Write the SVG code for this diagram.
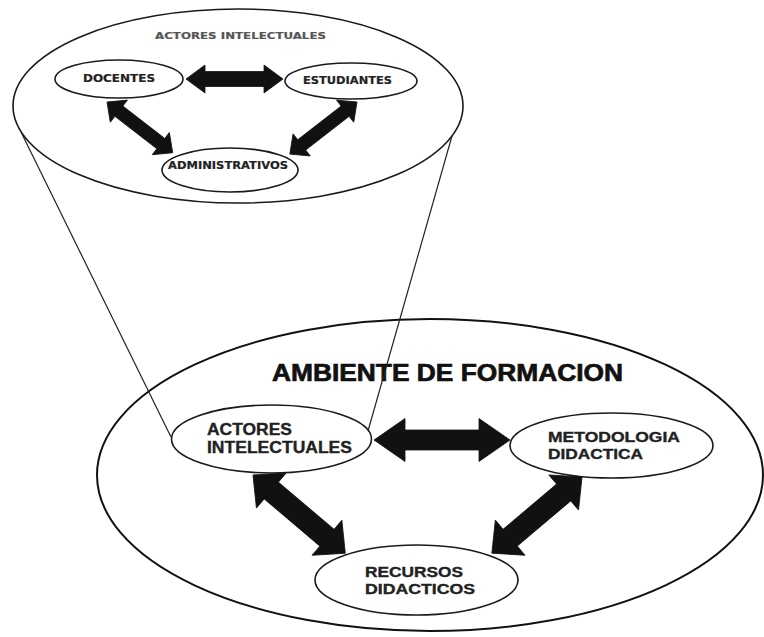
<svg xmlns="http://www.w3.org/2000/svg" width="764" height="637" viewBox="0 0 764 637">
<style>
.bg{fill:#ffffff}
.node{fill:#ffffff;stroke:#1a1a1a;stroke-width:1.6}
.outer{fill:none;stroke:#111;stroke-width:2}
.funnel{fill:none;stroke:#222;stroke-width:1.2}
.arrow{fill:#111;stroke:#111;stroke-width:0.8;stroke-linejoin:miter}
.lbl{font-family:"Liberation Sans",Arial,sans-serif;font-weight:bold;fill:#222;stroke:#222;stroke-width:0.35}
.title{font-family:"Liberation Sans",Arial,sans-serif;font-weight:bold;fill:#111;stroke:#111;stroke-width:0.7}
.small{font-family:"DejaVu Sans","Liberation Sans",sans-serif;font-weight:bold;fill:#222;stroke:#222;stroke-width:0.2}
</style>
<rect class="bg" x="0" y="0" width="764" height="637"/>

<g id="ambiente">
  <ellipse class="outer" cx="430" cy="475" rx="333" ry="156"/>
  <text class="title" x="272" y="381" font-size="24" textLength="351" lengthAdjust="spacingAndGlyphs">AMBIENTE DE FORMACION</text>
</g>

<g id="zoom-actores">
  <ellipse class="node" cx="238" cy="106" rx="225" ry="97" stroke-width="1.4"/>
  <text class="small" x="155" y="39" font-size="9.5" style="fill:#555;stroke:#555" textLength="171" lengthAdjust="spacingAndGlyphs">ACTORES INTELECTUALES</text>
</g>

<g id="connectors">
  <line class="funnel" x1="21" y1="132" x2="171" y2="437"/>
  <line class="funnel" x1="452" y1="136" x2="368" y2="431"/>
</g>

<g id="docentes">
  <ellipse class="node" cx="119" cy="79" rx="64" ry="19"/>
  <text class="small" x="83" y="82" font-size="10" textLength="72" lengthAdjust="spacingAndGlyphs">DOCENTES</text>
</g>
<g id="estudiantes">
  <ellipse class="node" cx="351" cy="81" rx="66" ry="18"/>
  <text class="small" x="303" y="84" font-size="10" textLength="89" lengthAdjust="spacingAndGlyphs">ESTUDIANTES</text>
</g>
<g id="administrativos">
  <ellipse class="node" cx="230" cy="170" rx="68" ry="22"/>
  <text class="small" x="168" y="169" font-size="10" textLength="120" lengthAdjust="spacingAndGlyphs">ADMINISTRATIVOS</text>
</g>

<g id="actores-intelectuales">
  <ellipse class="node" cx="271.5" cy="439" rx="100" ry="34"/>
  <text class="lbl" x="207" y="435" font-size="16.5" textLength="85" lengthAdjust="spacingAndGlyphs">ACTORES</text>
  <text class="lbl" x="207" y="453" font-size="16.5" textLength="145" lengthAdjust="spacingAndGlyphs">INTELECTUALES</text>
</g>
<g id="metodologia-didactica">
  <ellipse class="node" cx="611.5" cy="445.5" rx="101.5" ry="32.5"/>
  <text class="lbl" x="548" y="442" font-size="14" textLength="132" lengthAdjust="spacingAndGlyphs">METODOLOGIA</text>
  <text class="lbl" x="548" y="459" font-size="14" textLength="95" lengthAdjust="spacingAndGlyphs">DIDACTICA</text>
</g>
<g id="recursos-didacticos">
  <ellipse class="node" cx="416.5" cy="580" rx="101.5" ry="35"/>
  <text class="lbl" x="365" y="577" font-size="15" textLength="98" lengthAdjust="spacingAndGlyphs">RECURSOS</text>
  <text class="lbl" x="365" y="594" font-size="15" textLength="110" lengthAdjust="spacingAndGlyphs">DIDACTICOS</text>
</g>

<g id="arrows">
  <path class="arrow" transform="translate(186,79)" d="M0,0 L19,-14 L19,-7.5 L78,-7.5 L78,-14 L97,0 L78,14 L78,7.5 L19,7.5 L19,14 Z"/>
  <path class="arrow" transform="translate(107,102) rotate(37.7)" d="M0,0 L15,-14 L15,-6.5 L68,-6.5 L68,-14 L83,0 L68,14 L68,6.5 L15,6.5 L15,14 Z"/>
  <path class="arrow" transform="translate(357,102) rotate(142.2)" d="M0,0 L15,-14 L15,-6.5 L70,-6.5 L70,-14 L85,0 L70,14 L70,6.5 L15,6.5 L15,14 Z"/>
  <path class="arrow" transform="translate(374,440)" d="M0,0 L31,-21.5 L31,-10 L105,-10 L105,-21.5 L136,0 L105,21.5 L105,10 L31,10 L31,21.5 Z"/>
  <path class="arrow" transform="translate(253,475) rotate(40.3)" d="M0,0 L24,-23 L24,-11 L97,-11 L97,-23 L121,0 L97,23 L97,11 L24,11 L24,23 Z"/>
  <path class="arrow" transform="translate(582,477) rotate(139.8)" d="M0,0 L24,-23 L24,-11 L94,-11 L94,-23 L118,0 L94,23 L94,11 L24,11 L24,23 Z"/>
</g>
</svg>
